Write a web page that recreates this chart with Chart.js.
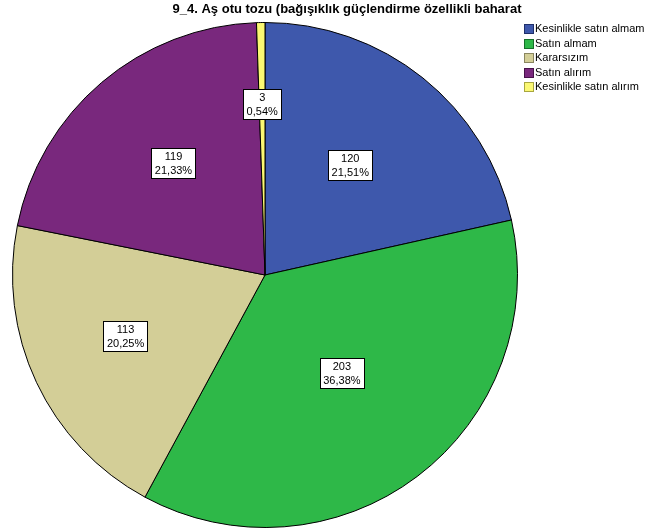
<!DOCTYPE html>
<html>
<head>
<meta charset="utf-8">
<script src="https://cdn.jsdelivr.net/npm/chart.js@4"></script>
<style>
  body { margin: 0; background: #fff; }
  canvas { display: block; }
</style>
</head>
<body>
<canvas id="pie-chart" width="649" height="531"></canvas>
<script>
const titulo = "9_4. Aş otu tozu (bağışıklık güçlendirme özellikli baharat";
const categorias = ["Kesinlikle satın almam", "Satın almam", "Kararsızım", "Satın alırım", "Kesinlikle satın alırım"];
const cantidades = [120, 203, 113, 119, 3];
const porcentajes = ["21,51%", "36,38%", "20,25%", "21,33%", "0,54%"];
const colores = ["#3e58ac", "#2eb848", "#d3ce97", "#79287d", "#fbf873"];
const bordesLeyenda = ["#1f2f6b", "#16702a", "#8a8660", "#47124a", "#a8a640"];
// how far out from the centre each value box sits (fraction of radius)
const radioEtiqueta = [0.54, 0.505, 0.61, 0.56, 0.66];

const FONT = '"Liberation Sans", Arial, sans-serif';

const etiquetas = {
  id: 'etiquetas',
  afterDatasetsDraw(chart) {
    const ctx = chart.ctx;
    const meta = chart.getDatasetMeta(0);
    ctx.save();
    ctx.font = '11px ' + FONT;
    ctx.textAlign = 'center';
    ctx.textBaseline = 'middle';
    meta.data.forEach((arc, i) => {
      const p = arc.getProps(['x', 'y', 'startAngle', 'endAngle', 'outerRadius'], true);
      const mid = (p.startAngle + p.endAngle) / 2;
      const cx = p.x + Math.cos(mid) * p.outerRadius * radioEtiqueta[i];
      const cy = p.y + Math.sin(mid) * p.outerRadius * radioEtiqueta[i] - 4;
      const l1 = String(cantidades[i]);
      const l2 = porcentajes[i];
      const w = Math.max(ctx.measureText(l1).width, ctx.measureText(l2).width) + 7;
      const h = 30;
      const bx = Math.round(cx - w / 2) + 0.5;
      const by = Math.round(cy - h / 2) + 0.5;
      ctx.fillStyle = '#fff';
      ctx.fillRect(bx, by, Math.round(w), h);
      ctx.strokeStyle = '#000';
      ctx.lineWidth = 1;
      ctx.strokeRect(bx, by, Math.round(w), h);
      ctx.fillStyle = '#000';
      ctx.fillText(l1, cx, by + 8);
      ctx.fillText(l2, cx, by + 22);
    });
    ctx.restore();
  },
  afterDraw(chart) {
    const ctx = chart.ctx;
    ctx.save();
    ctx.fillStyle = '#000';
    ctx.font = 'bold 13px ' + FONT;
    ctx.textAlign = 'center';
    ctx.textBaseline = 'middle';
    ctx.fillText(titulo, 347, 9);
    ctx.font = '11px ' + FONT;
    ctx.textAlign = 'left';
    categorias.forEach((cat, i) => {
      const y = 29 + i * 14.5;
      ctx.fillStyle = colores[i];
      ctx.fillRect(524.5, Math.round(y - 5) + 0.5, 9, 9);
      ctx.strokeStyle = bordesLeyenda[i];
      ctx.lineWidth = 1;
      ctx.strokeRect(524.5, Math.round(y - 5) + 0.5, 9, 9);
      ctx.fillStyle = '#000';
      ctx.fillText(cat, 535, y);
    });
    ctx.restore();
  }
};

new Chart(document.getElementById("pie-chart"), {
  type: 'pie',
  data: {
    labels: categorias,
    datasets: [{
      data: cantidades,
      backgroundColor: colores,
      borderColor: '#000',
      borderWidth: 1
    }]
  },
  options: {
    responsive: false,
    animation: false,
    devicePixelRatio: 1,
    layout: { padding: { left: 12, right: 131, top: 22, bottom: 3 } },
    plugins: {
      legend: { display: false },
      title: { display: false },
      tooltip: { enabled: false }
    }
  },
  plugins: [etiquetas]
});
</script>
</body>
</html>
